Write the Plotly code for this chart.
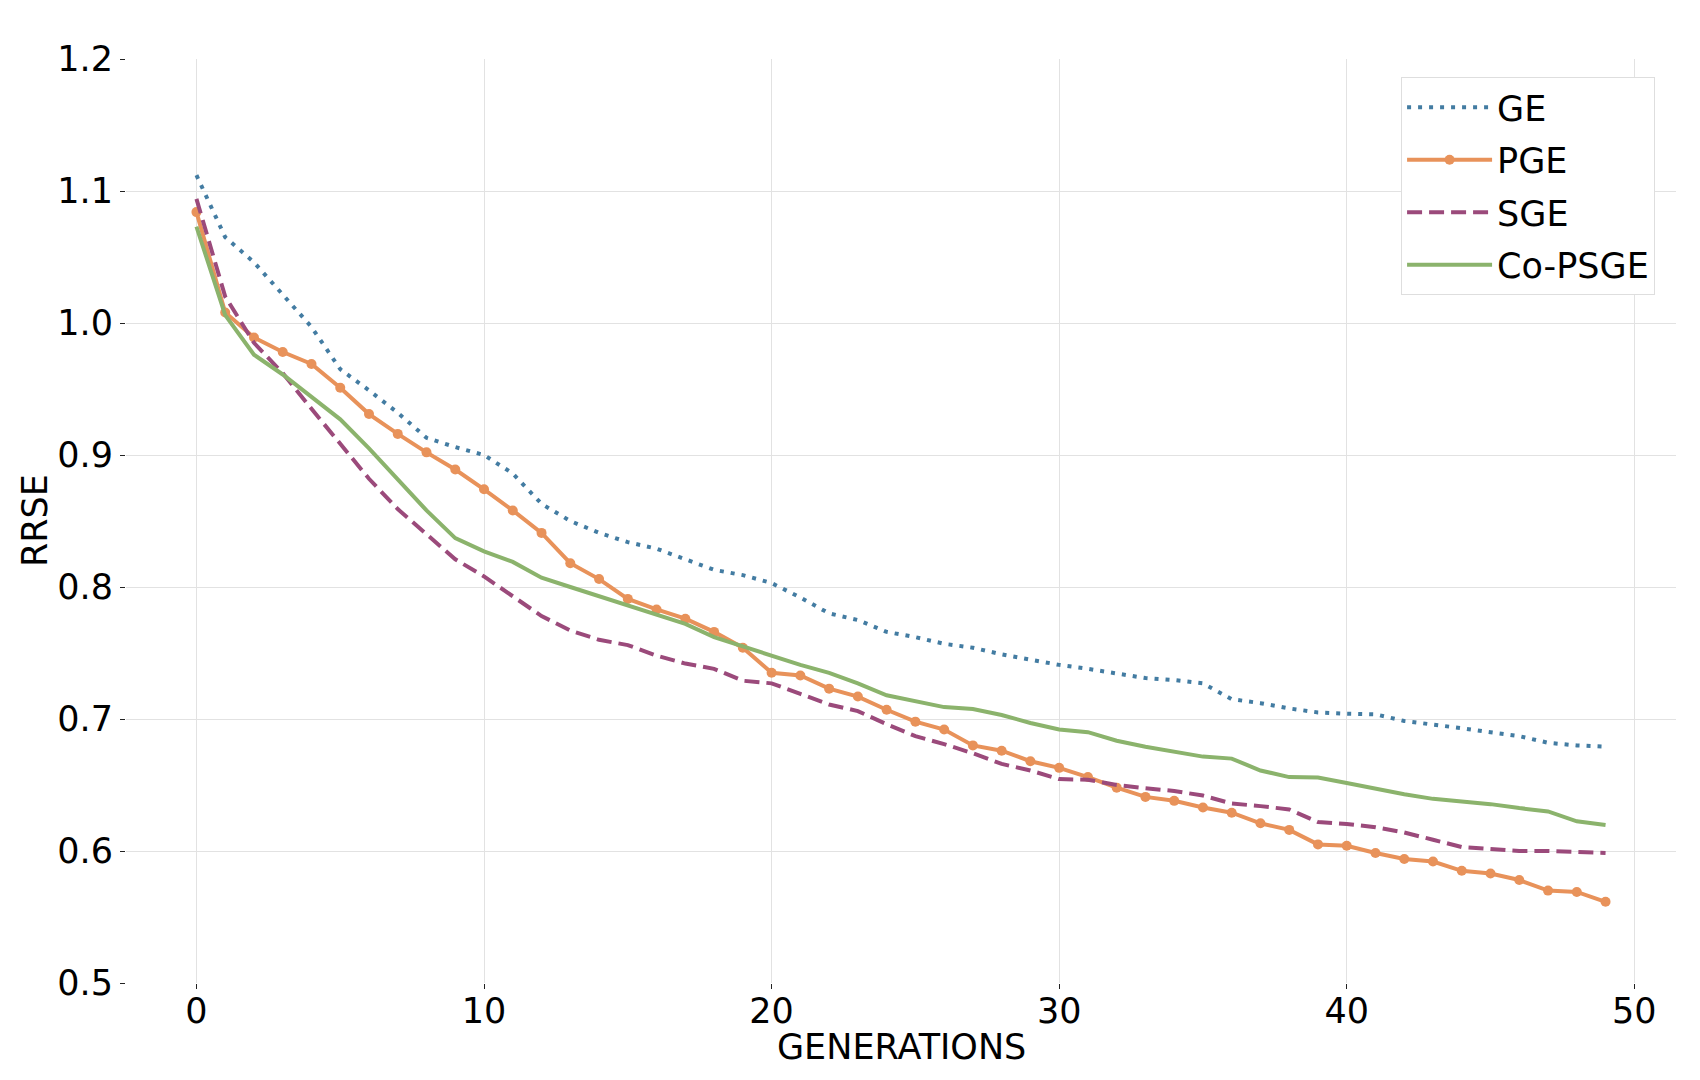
import plotly.graph_objects as go

generations = list(range(50))

ge = [1.112, 1.065, 1.046, 1.021, 0.997, 0.965, 0.949, 0.932, 0.913, 0.906,
      0.900, 0.886, 0.863, 0.850, 0.841, 0.834, 0.829, 0.821, 0.813, 0.809,
      0.803, 0.792, 0.780, 0.775, 0.766, 0.762, 0.757, 0.754, 0.749, 0.745,
      0.741, 0.738, 0.7345, 0.731, 0.7295, 0.727, 0.715, 0.712, 0.708, 0.705,
      0.704, 0.7035, 0.6985, 0.696, 0.693, 0.690, 0.687, 0.682, 0.680, 0.679]

pge = [1.084, 1.008, 0.989, 0.978, 0.969, 0.951, 0.931, 0.916, 0.902, 0.889,
       0.874, 0.858, 0.841, 0.818, 0.806, 0.791, 0.783, 0.776, 0.766, 0.754,
       0.735, 0.733, 0.723, 0.717, 0.707, 0.698, 0.692, 0.680, 0.676, 0.668,
       0.663, 0.656, 0.648, 0.641, 0.638, 0.633, 0.629, 0.621, 0.616, 0.605,
       0.604, 0.5985, 0.594, 0.592, 0.585, 0.583, 0.578, 0.570, 0.569, 0.5615]

sge = [1.094, 1.020, 0.985, 0.962, 0.935, 0.908, 0.882, 0.859, 0.840, 0.821,
       0.808, 0.793, 0.778, 0.767, 0.760, 0.756, 0.748, 0.742, 0.738, 0.729,
       0.727, 0.719, 0.711, 0.706, 0.696, 0.687, 0.681, 0.674, 0.666, 0.661,
       0.6545, 0.654, 0.650, 0.6475, 0.6455, 0.642, 0.636, 0.634, 0.6315, 0.622,
       0.6205, 0.618, 0.614, 0.6085, 0.603, 0.6015, 0.600, 0.600, 0.599, 0.5985]

co_psge = [1.073, 1.006, 0.976, 0.961, 0.944, 0.927, 0.905, 0.881, 0.858, 0.837,
           0.827, 0.819, 0.807, 0.800, 0.793, 0.786, 0.779, 0.772, 0.762, 0.755,
           0.748, 0.741, 0.735, 0.727, 0.718, 0.7135, 0.709, 0.7075, 0.703, 0.697,
           0.692, 0.690, 0.6835, 0.679, 0.675, 0.6715, 0.670, 0.661, 0.656, 0.6556,
           0.6515, 0.647, 0.643, 0.6395, 0.6375, 0.6355, 0.6325, 0.630, 0.6225, 0.6197]

font = "DejaVu Sans"

fig = go.Figure()

fig.add_trace(go.Scatter(x=generations, y=ge, name="GE", mode="lines", legendgroup="a",
                         line=dict(color="#437ca2", width=4, dash="4px,7px")))
fig.add_trace(go.Scatter(x=generations, y=pge, name="PGE", mode="lines+markers", legendgroup="b",
                         line=dict(color="#e8925a", width=4),
                         marker=dict(color="#e8925a", size=10)))
fig.add_trace(go.Scatter(x=generations, y=sge, name="SGE", mode="lines", legendgroup="c",
                         line=dict(color="#9b4a7b", width=4, dash="15px,7px")))
fig.add_trace(go.Scatter(x=generations, y=co_psge, name="Co-PSGE", mode="lines", legendgroup="d",
                         line=dict(color="#8bb36c", width=4)))

# page body has an 8px margin, so the figure is a bit smaller and shifted
fig.update_layout(
    width=1684,
    height=1064,
    autosize=False,
    margin=dict(l=118, r=16, t=51, b=89, autoexpand=False),
    plot_bgcolor="white",
    paper_bgcolor="white",
    font=dict(family=font, size=35, color="black"),
    xaxis=dict(
        range=[-2.45, 51.45],
        tickvals=[0, 10, 20, 30, 40, 50],
        showgrid=True, gridcolor="#e2e2e2", gridwidth=1,
        zeroline=False, showline=False, automargin=False,
        ticks="outside", ticklen=5, tickcolor="#222", tickwidth=1,
        ticklabelstandoff=-8,
    ),
    yaxis=dict(
        range=[0.5, 1.2],
        tickvals=[0.5, 0.6, 0.7, 0.8, 0.9, 1.0, 1.1, 1.2],
        ticktext=["0.5", "0.6", "0.7", "0.8", "0.9", "1.0", "1.1", "1.2"],
        showgrid=True, gridcolor="#e2e2e2", gridwidth=1,
        zeroline=False, showline=False, automargin=False,
        ticks="outside", ticklen=5, tickcolor="#222", tickwidth=1,
    ),
    legend=dict(
        x=0.9865, y=0.9805, xanchor="right", yanchor="top",
        bgcolor="white", bordercolor="#dedede", borderwidth=1,
        font=dict(size=35), tracegroupgap=4, traceorder="grouped",
        itemwidth=85,
    ),
)

# axis titles
fig.add_annotation(text="GENERATIONS", xref="paper", yref="paper", x=0.5, y=-0.0693,
                   xanchor="center", yanchor="middle", showarrow=False, font=dict(size=35))
fig.add_annotation(text="RRSE", xref="paper", yref="paper", x=-0.0587, y=0.5,
                   xanchor="center", yanchor="middle", textangle=-90, showarrow=False,
                   font=dict(size=35))

fig.write_html("out.html")
